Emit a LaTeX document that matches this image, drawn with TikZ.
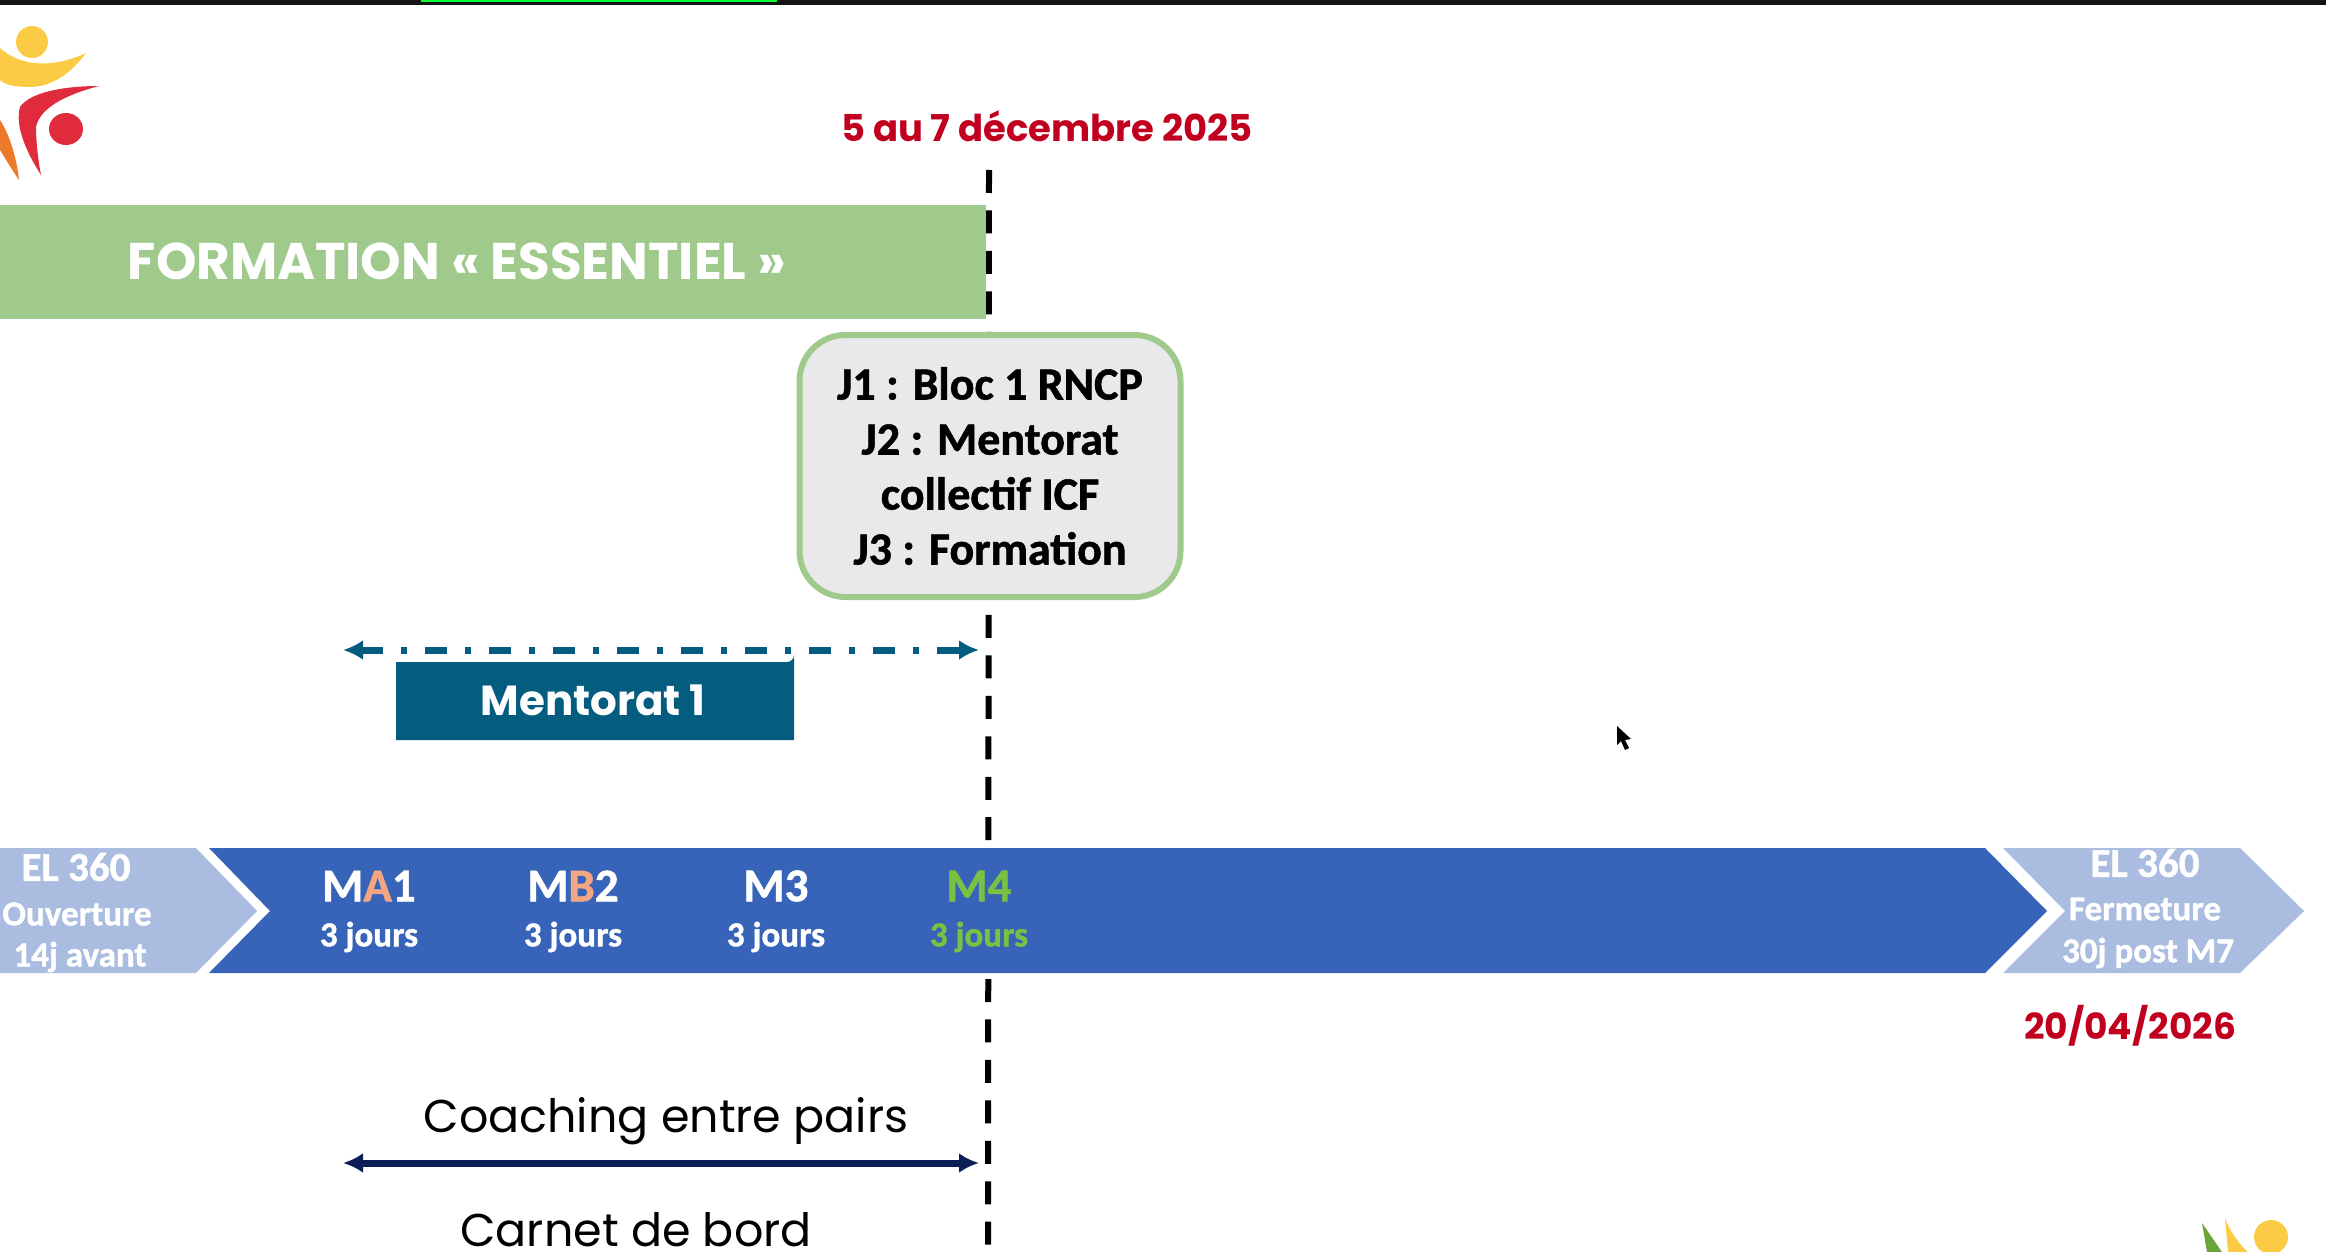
\documentclass[tikz,border=0pt]{standalone}
\usepackage{fontspec}
\setmainfont{Carlito}[BoldFeatures={FakeBold=1.2}]
\newfontfamily\montfont{Poppins}
\usetikzlibrary{arrows.meta}
\definecolor{bandgreen}{HTML}{A0CA8C}
\definecolor{boxgray}{HTML}{E9E8EA}
\definecolor{barblue}{HTML}{3764B8}
\definecolor{barlight}{HTML}{AABCE0}
\definecolor{mentorblue}{HTML}{045C7E}
\definecolor{navyline}{HTML}{0B1F56}
\definecolor{datered}{HTML}{C0001E}
\definecolor{mgreen}{HTML}{7AC143}
\definecolor{morange}{HTML}{F4A582}
\definecolor{logoyellow}{HTML}{FBCB45}
\definecolor{logored}{HTML}{DF2B3C}
\definecolor{logoorange}{HTML}{EC7A2A}
\definecolor{logogreen}{HTML}{6AA53A}
\newcommand{\sz}[1]{\fontsize{#1}{#1}\selectfont}
\begin{document}
\begin{tikzpicture}
[x=1pt,y=-1pt,
  datelabel/.style={text=datered,font=\montfont\bfseries\sz{37}},
  monthlabel/.style={text=white,font=\bfseries\sz{47}},
  dayslabel/.style={text=white,font=\bfseries\sz{35}},
  ellabel/.style={text=white,font=\bfseries\sz{35}},
  eltitle/.style={text=white,font=\bfseries\sz{41}},
  plainlabel/.style={text=black,font=\montfont\sz{46}},
  spanline/.style={{Latex[length=20pt,width=20pt]}-{Latex[length=20pt,width=20pt]},line width=7pt}]
\useasboundingbox (0,0) rectangle (2326,1252);
%% screen edge
\fill[black!92] (0,0) rectangle (2326,5);
\fill[green!80!cyan] (421,0) rectangle (777,2);
%% logos
\fill[logoyellow] (32,42) circle (16);
\fill[logoyellow] (0,48) .. controls (15,62) and (45,72) .. (86,53)
  .. controls (70,75) and (50,87) .. (30,87) .. controls (15,87) and (5,85) .. (0,80) -- cycle;
\fill[logored] (99,86) .. controls (65,86) and (30,92) .. (20,107)
  .. controls (15,125) and (25,150) .. (41,175) .. controls (38,160) and (36,140) .. (36,127)
  .. controls (40,108) and (65,95) .. (99,86) -- cycle;
\fill[logored] (66,129) ellipse (17 and 16);
\fill[logoorange] (0,120) .. controls (10,135) and (17,160) .. (19,180)
  .. controls (12,170) and (5,158) .. (0,150) -- cycle;
\fill[logogreen] (2202,1223) -- (2222,1252) -- (2207,1252) -- cycle;
\fill[logoyellow] (2225,1218) .. controls (2230,1232) and (2240,1245) .. (2248,1252) -- (2228,1252) -- cycle;
\fill[logoyellow] (2271,1237) circle (17);
%% vertical date line
\coordinate (axistop) at (989,170);
\coordinate (axisbottom) at (988,1246);
\draw[black,line width=6pt,dash pattern=on 23pt off 17.45pt] (axistop) -- (axisbottom);
%% band and date
\node (band) at (493,262) [minimum width=986pt,minimum height=114pt,inner sep=0pt,fill=bandgreen] {};
\node (bandtext) at (457,261) [text=white,font=\montfont\bfseries\sz{51.5}] {FORMATION « ESSENTIEL »};
\node (datestart) at (1047,126) [datelabel] {5 au 7 décembre 2025};
\node (dateend) at (2130,1026) [datelabel,font=\montfont\bfseries\sz{36}] {20/04/2026};
%% programme box
\node (daysbox) at (990,466) [minimum width=381pt,minimum height=262pt,inner sep=0pt,rounded corners=46pt,
  draw=bandgreen,line width=6pt,fill=boxgray,align=center,text=black,
  font=\bfseries\fontsize{46}{55}\selectfont]
  {J1 : Bloc 1 RNCP\\J2 : Mentorat\\collectif ICF\\J3 : Formation};
%% mentorat
\coordinate (mentorleft) at (343,650);
\coordinate (mentorright) at (979,650);
\draw[spanline,mentorblue,dash pattern=on 22pt off 18pt on 6pt off 18pt] (mentorleft) -- (mentorright);
\fill[mentorblue] (396,662) -- (787,662) arc[start angle=90,end angle=0,radius=7] -- (794,740) -- (396,740) -- cycle;
\node (mentorbox) at (593,700) [text=white,font=\montfont\bfseries\sz{42}] {Mentorat 1};
%% chevrons
\fill[barlight] (0,848) -- (196,848) -- (257,911) -- (196,973) -- (0,973) -- cycle;
\fill[barblue] (209,848) -- (1985,848) -- (2047,911) -- (1985,973) -- (209,973) -- (270,911) -- cycle;
\fill[barlight] (2003,848) -- (2240,848) -- (2304,911) -- (2240,973) -- (2003,973) -- (2065,911) -- cycle;
\node (elopen) at (76,867) [eltitle] {EL 360};
\node (elclose) at (2145,863) [eltitle] {EL 360};
\foreach \nodename/\x/\y/\txt in {opening/77/914/Ouverture, openbefore/80/957/14j avant,
  closing/2145/909/Fermeture, closeafter/2148/953/30j post M7} {
  \node (\nodename) at (\x,\y) [ellabel] {\txt};
}
%% modules
\node (ma) at (369,886) [monthlabel] {M\textcolor{morange}{A}1};
\node (mb) at (573,886) [monthlabel] {M\textcolor{morange}{B}2};
\node (mc) at (776,886) [monthlabel] {M3};
\node (md) at (979,886) [monthlabel,text=mgreen] {M4};
\foreach \nodename/\x in {daysa/369, daysb/573, daysc/776} {
  \node (\nodename) at (\x,937) [dayslabel] {3 jours};
}
\node (daysd) at (979,937) [dayslabel,text=mgreen] {3 jours};
%% coaching
\node (coaching) at (666,1121) [plainlabel] {Coaching entre pairs};
\coordinate (coachleft) at (343,1163);
\coordinate (coachright) at (979,1163);
\draw[spanline,navyline] (coachleft) -- (coachright);
\node (carnet) at (636,1246) [plainlabel,anchor=base,inner sep=0pt] {Carnet de bord};
%% pointer
\fill[black] (1617,726) -- (1617,745) -- (1621,741) -- (1625,750) -- (1629,748) -- (1625,740) -- (1631,739) -- cycle;
\end{tikzpicture}
\end{document}
